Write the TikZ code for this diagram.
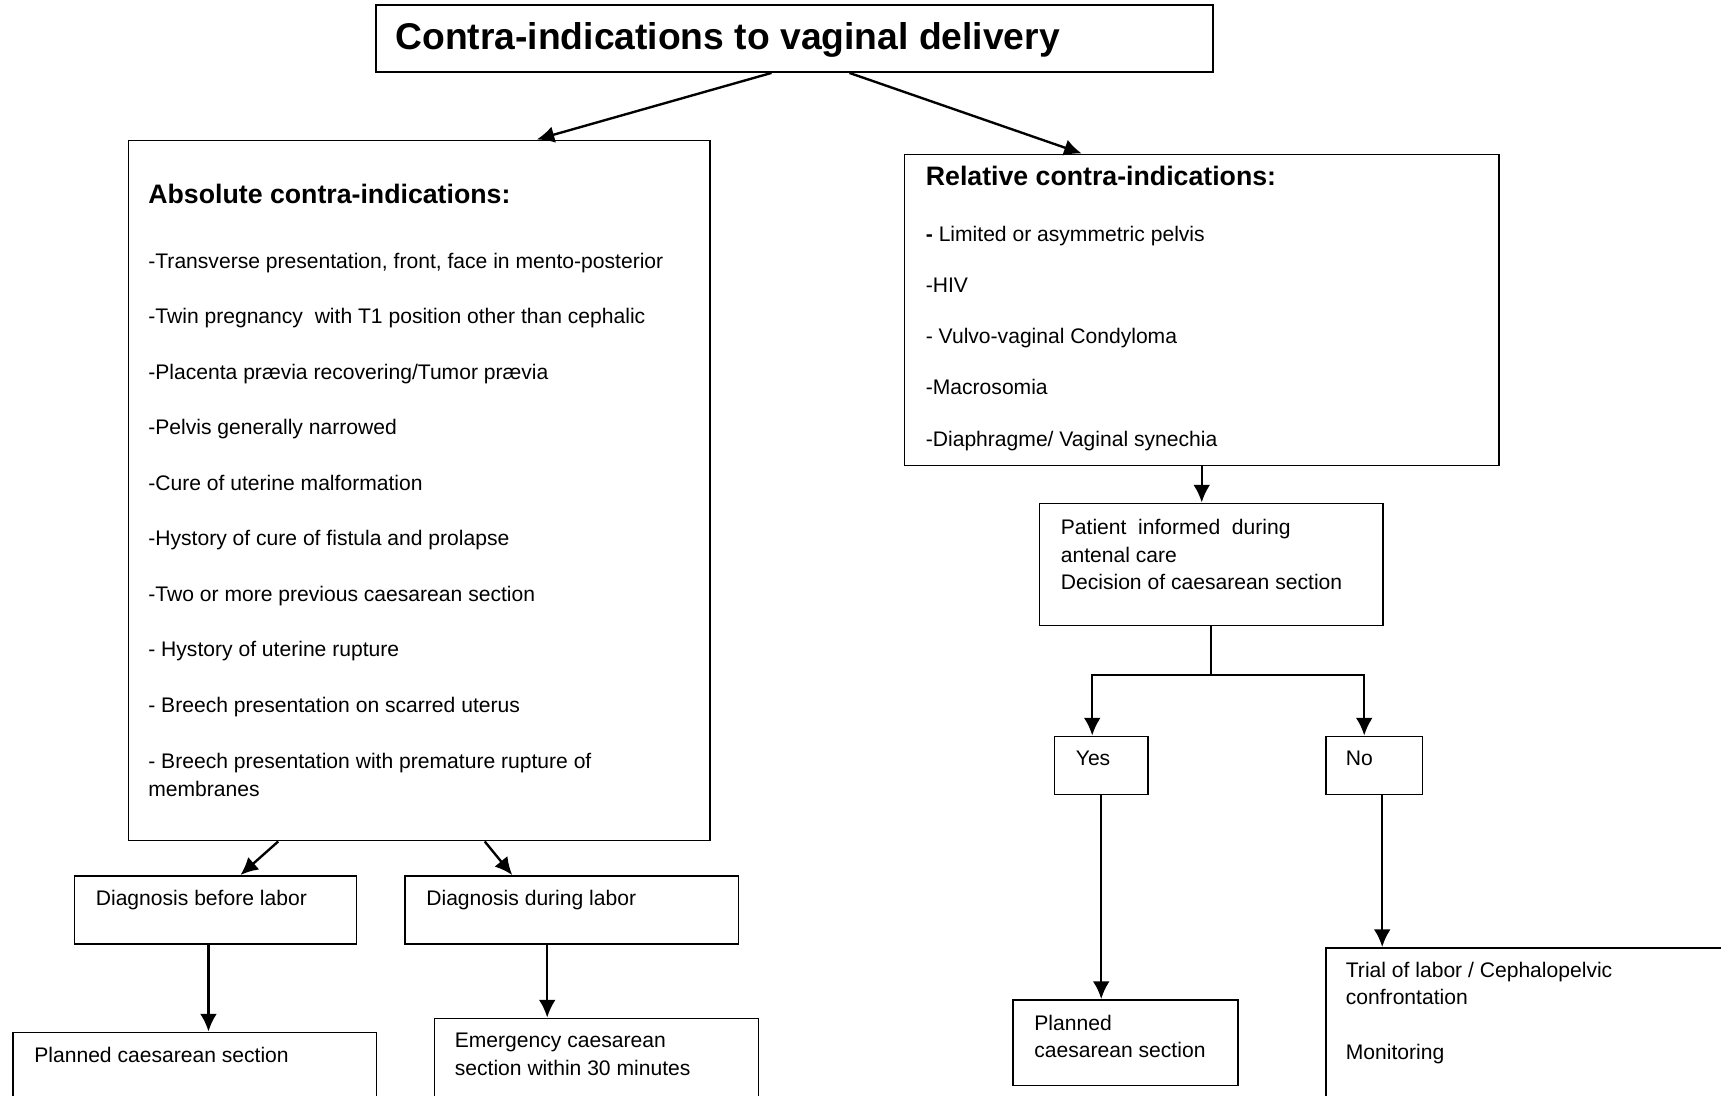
\documentclass[tikz,border=0pt]{standalone}
\usepackage{fontspec}
\setmainfont{Liberation Sans}
\usetikzlibrary{arrows.meta}
\tikzset{
  box/.style={draw, line width=1.1pt, anchor=north west, inner sep=0pt},
  txt/.style={anchor=west, inner sep=0pt, font=\fontsize{12}{15.6}\selectfont, text height=1em, text depth=0.18em},
  txtm/.style={anchor=west, inner sep=0pt, align=left, font=\fontsize{12}{15.6}\selectfont},
  head/.style={txt, font=\fontsize{15.2}{18}\selectfont\bfseries},
  arr/.style={->, >={Latex[length=10pt,width=9.5pt]}, line width=1.35pt}
}
\begin{document}
\begin{tikzpicture}
    \useasboundingbox (0,0) rectangle (34.42,-21.9);
    \node[box, minimum width=16.74cm, minimum height=1.34cm] (title) at (7.50,-0.08) {};
    \node[head, font=\fontsize{21.2}{25}\selectfont\bfseries] (titletxt) at (7.90,-0.84) {Contra-indications to vaginal delivery};
    \node[box, minimum width=11.63cm, minimum height=14cm] (absbox) at (2.55,-2.79) {};
    \node[box, minimum width=11.89cm, minimum height=6.22cm] (relbox) at (18.07,-3.07) {};
    \node[box, minimum width=6.87cm, minimum height=2.44cm] (patient) at (20.77,-10.05) {};
    \node[box, minimum width=1.87cm, minimum height=1.16cm] (yes) at (21.07,-14.71) {};
    \node[box, minimum width=1.93cm, minimum height=1.16cm] (no) at (26.50,-14.71) {};
    \node[box, minimum width=4.50cm, minimum height=1.71cm] (planR) at (20.24,-19.98) {};
    \node[box, minimum width=9cm, minimum height=4cm] (trial) at (26.50,-18.94) {};
    \node[box, minimum width=5.64cm, minimum height=1.36cm] (before) at (1.47,-17.50) {};
    \node[box, minimum width=6.67cm, minimum height=1.36cm] (during) at (8.08,-17.50) {};
    \node[box, minimum width=7.27cm, minimum height=2cm] (planL) at (0.24,-20.63) {};
    \node[box, minimum width=6.48cm, minimum height=2cm] (emerg) at (8.67,-20.35) {};

    \node[head] (abshead) at (2.96,-3.93) {Absolute contra-indications:};
    \foreach \txt [count=\i] in {{-Transverse presentation, front, face in mento-posterior},
        {-Twin pregnancy\ \ with T1 position other than cephalic},
        {-Placenta prævia recovering/Tumor prævia},
        {-Pelvis generally narrowed},
        {-Cure of uterine malformation},
        {-Hystory of cure of fistula and prolapse},
        {-Two or more previous caesarean section},
        {- Hystory of uterine rupture},
        {- Breech presentation on scarred uterus}}
        \node[txt] (abs\i) at (2.96,{-5.22-1.11*(\i-1)}) {\txt};
    \node[txtm] (abs10) at (2.96,-15.50) {- Breech presentation with premature rupture of\\membranes};

    \node[head] (relhead) at (18.51,-3.57) {Relative contra-indications:};
    \foreach \txt [count=\i] in {{\textbf{-} Limited or asymmetric pelvis}, {-HIV},
        {- Vulvo-vaginal Condyloma}, {-Macrosomia}, {-Diaphragme/ Vaginal synechia}}
        \node[txt] (rel\i) at (18.51,{-4.68-1.025*(\i-1)}) {\txt};

    \node[txtm] (patienttxt) at (21.21,-11.09) {Patient\ \ informed\ \ during\\antenal care\\Decision of caesarean section};
    \node[txt] (yestxt) at (21.51,-15.17) {Yes};
    \node[txt] (notxt) at (26.91,-15.17) {No};
    \node[txtm] (planRtxt) at (20.68,-20.725) {Planned\\caesarean section};
    \node[txtm] (trialtxt) at (26.91,-20.26) {Trial of labor / Cephalopelvic\\confrontation\\[15.6pt]Monitoring};
    \node[txt] (beforetxt) at (1.91,-17.96) {Diagnosis before labor};
    \node[txt] (duringtxt) at (8.52,-17.96) {Diagnosis during labor};
    \node[txt] (planLtxt) at (0.68,-21.10) {Planned caesarean section};
    \node[txtm] (emergtxt) at (9.09,-21.085) {Emergency caesarean\\section within 30 minutes};

    \draw[arr] ([xshift=-0.46cm]title.south) -- ([xshift=2.35cm]absbox.north);
    \draw[arr] ([xshift=1.10cm]title.south) -- ([xshift=-2.40cm]relbox.north);
    \draw[arr] (relbox.south) -- (relbox.south |- patient.north);
    \coordinate (fork) at ([yshift=-0.97cm]patient.south);
    \draw[line width=1.1pt] (patient.south) -- (fork);
    \draw[arr] (fork) -| ([xshift=-0.18cm]yes.north);
    \draw[arr] (fork) -| ([xshift=-0.20cm]no.north);
    \draw[arr] (yes.south) -- (yes.south |- planR.north);
    \draw[arr] ([xshift=0.16cm]no.south) -- ([xshift=0.16cm]no.south |- trial.north);
    \draw[arr] ([xshift=-2.82cm]absbox.south) -- ([xshift=0.50cm]before.north);
    \draw[arr] ([xshift=1.31cm]absbox.south) -- ([xshift=-1.19cm]during.north);
    \draw[arr] ([xshift=-0.14cm]before.south) -- ([xshift=-0.14cm]before.south |- planL.north);
    \draw[arr] ([xshift=-0.49cm]during.south) -- ([xshift=-0.49cm]during.south |- emerg.north);
\end{tikzpicture}
\end{document}
